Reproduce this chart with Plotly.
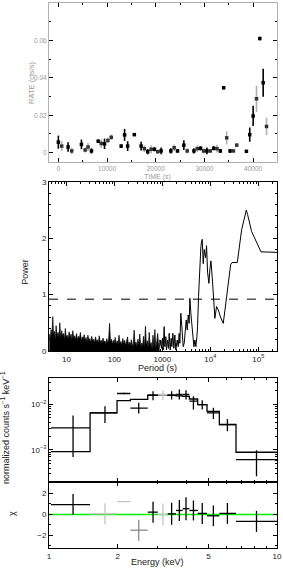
import math
import plotly.graph_objects as go

# ---------------- light curve (top panel) ----------------
lc_time = [0, 690, 2000, 2750, 4740, 5500, 6100, 6800, 8180, 8800,
           9480, 10170, 10860, 12900, 13600, 14230, 15600, 17000, 17660, 18350,
           19040, 19730, 20400, 21100, 23100, 23780, 24470, 25770, 26460, 27840,
           28520, 29200, 29830, 30500, 31200, 31900, 32580, 33260, 33950, 34570,
           35260, 35950, 36630, 38620, 39300, 40000, 40690, 41370, 42060, 42750]
lc_rate = [0.0056, 0.0035, 0.0030, 0.0009, 0.0044, 0.0014, 0.0030, 0.0009, 0.0061, 0.0049,
           0.0047, 0.0065, 0.0082, 0.0035, 0.0095, 0.0035, 0.0096, 0.0035, 0.0021, 0.0005,
           0.0018, 0.0018, 0.0005, 0.0009, 0.0009, 0.0026, 0.0009, 0.0040, 0.0009, 0.0009,
           0.0021, 0.0023, 0.0009, 0.0009, 0.0009, 0.0023, 0.0021, 0.0009, 0.0347, 0.0079,
           0.0009, 0.0009, 0.0040, 0.0007, 0.0096, 0.0196, 0.0288, 0.0610, 0.0374, 0.0140]
lc_err = [0.0035, 0.0026, 0.0025, 0.0018, 0.0026, 0.0014, 0.0021, 0.0014, 0.0009, 0.0023,
          0.0028, 0.0014, 0.0014, 0.0009, 0.0032, 0.0026, 0.0007, 0.0023, 0.0018, 0.0014,
          0.0021, 0.0011, 0.0011, 0.0018, 0.0014, 0.0018, 0.0009, 0.0026, 0.0014, 0.0014,
          0.0018, 0.0011, 0.0014, 0.0018, 0.0011, 0.0011, 0.0021, 0.0011, 0.0009, 0.0035,
          0.0011, 0.0009, 0.0011, 0.0007, 0.0038, 0.0054, 0.0070, 0.0009, 0.0075, 0.0047]
lc_inst = ["A", "B", "A", "B", "A", "B", "B", "A", "A", "B",
           "A", "B", "B", "A", "A", "A", "A", "A", "B", "A",
           "B", "A", "B", "A", "A", "B", "A", "A", "B", "A",
           "B", "A", "B", "A", "B", "A", "B", "A", "A", "B",
           "A", "B", "B", "A", "A", "A", "B", "A", "A", "B"]
time_ticks = [0, 10000, 20000, 30000, 40000]
rate_ticks = [0, 0.02, 0.04, 0.06, 0.08]
rate_ticktext = ["0", "0.02", "0.04", "0.06", "0.08"]

# ---------------- periodogram (middle panel) ----------------
noise_period = [4.4, 4.6, 4.8, 5.0, 5.2, 5.4, 5.6, 5.9, 6.1, 6.4,
                6.7, 7.0, 7.3, 7.6, 8.0, 8.3, 8.7, 9.1, 9.5, 9.9,
                10.4, 10.9, 11.4, 11.9, 12.5, 13.0, 13.6, 14.3, 14.9, 15.6,
                16.3, 17.1, 17.9, 18.7, 19.6, 20.5, 21.4, 22.4, 23.5, 24.5,
                25.7, 26.9, 28.1, 29.4, 30.8, 32.2, 33.7, 35.2, 36.9, 38.6,
                40.4, 42.2, 44.2, 46.2, 48.4, 50.6, 52.9, 55.4, 58.0, 60.6,
                63.4, 66.4, 69.5, 72.7, 76.0, 79.5, 83.2, 87.1, 91.1, 95.3,
                99.7, 104, 109, 114, 120, 125, 131, 137, 143, 150,
                157, 164, 172, 180, 188, 197, 206, 215, 225, 236,
                247, 258, 270, 283, 296, 310, 324, 339, 355, 371,
                388, 406, 425, 445, 465, 487, 509, 533, 558, 584,
                611, 639, 669, 700, 732, 766, 802, 839, 878]
noise_power = [0.30, 0.22, 0.38, 0.25, 0.61, 0.28, 0.35, 0.20, 0.45, 0.26,
               0.33, 0.24, 0.50, 0.22, 0.36, 0.27, 0.31, 0.19, 0.40, 0.25,
               0.28, 0.21, 0.34, 0.23, 0.30, 0.18, 0.36, 0.22, 0.27, 0.20,
               0.31, 0.19, 0.26, 0.22, 0.33, 0.17, 0.25, 0.21, 0.29, 0.18,
               0.24, 0.16, 0.28, 0.19, 0.22, 0.15, 0.26, 0.18, 0.21, 0.14,
               0.25, 0.17, 0.20, 0.13, 0.27, 0.16, 0.19, 0.14, 0.23, 0.15,
               0.18, 0.12, 0.22, 0.14, 0.20, 0.49, 0.15, 0.21, 0.12, 0.19,
               0.14, 0.24, 0.11, 0.18, 0.13, 0.28, 0.12, 0.17, 0.10, 0.22,
               0.13, 0.19, 0.09, 0.15, 0.25, 0.10, 0.16, 0.08, 0.20, 0.12,
               0.09, 0.37, 0.11, 0.16, 0.07, 0.21, 0.10, 0.30, 0.06, 0.14,
               0.08, 0.26, 0.05, 0.44, 0.10, 0.18, 0.04, 0.33, 0.09, 0.15,
               0.03, 0.28, 0.07, 0.38, 0.05, 0.16, 0.31, 0.04, 0.20]
peak_period = [887, 931, 961, 1009, 1042, 1093, 1128, 1184, 1222, 1283,
               1346, 1390, 1459, 1531, 1581, 1656, 1738, 1824, 1914, 2042,
               2143, 2249, 2322, 2432, 2553, 2636, 2723, 2858, 2999, 3148,
               3304, 3467, 3631, 3750, 3936, 4130, 4335, 4550, 4775, 5011,
               5260, 5430, 5690, 6067, 6368, 6577, 6792, 7129, 7482, 7980,
               8363, 8777, 9360, 9823, 10310, 10990, 11530, 12480, 13520, 14650,
               16400, 18630, 20190, 21880, 24490, 26540, 28270, 36560, 45000, 56360,
               60000, 72780, 114000, 258000]
peak_power = [0.077, 0.195, 0.047, 0.225, 0.018, 0.432, 0.077, 0.254, 0.018, 0.195,
              0.047, 0.314, 0.018, 0.225, 0.077, 0.314, 0.047, 0.284, 0.018, 0.195,
              0.077, 0.314, 0.136, 0.669, 0.432, 0.195, 0.077, 0.136, 0.314, 0.551,
              0.373, 0.639, 0.491, 0.935, 0.669, 0.432, 0.254, 0.077, 0.195, 0.077,
              0.254, 0.432, 0.965, 1.557, 1.853, 1.942, 1.983, 1.55, 1.80, 1.65,
              1.87, 1.40, 1.20, 1.45, 1.60, 1.30, 0.94, 0.58, 0.79, 0.73,
              0.60, 0.49, 0.72, 0.96, 1.32, 1.53, 1.57, 1.57, 2.15, 2.50,
              2.42, 2.12, 1.76, 1.75]
sig_level = 0.92
period_ticks = [10, 100, 1000, 1e4, 1e5]
period_ticktext = ["10", "100", "1000", "10<sup>4</sup>", "10<sup>5</sup>"]

# ---------------- spectrum + residuals (bottom panels) ----------------
spec_edges = [1.02, 1.514, 1.988, 2.275, 2.71, 3.0, 3.316, 3.607, 3.859, 4.128,
              4.489, 4.934, 5.587, 6.61, 10.0]
spec_energy = [1.275, 1.76, 2.13, 2.475, 2.86, 3.16, 3.45, 3.73, 3.99, 4.3,
               4.7, 5.26, 6.06, 8.13]
spec_counts = [0.00303, 0.00646, 0.01713, 0.00818, 0.01574, 0.01628, 0.01574, 0.01628, 0.01628, 0.01163,
               0.00983, 0.00646, 0.00359, 0.000614]
spec_lo = [0.000703, 0.00390, 0.0165, 0.00625, 0.01224, 0.01224, 0.01266, 0.01266, 0.01266, 0.00764,
           0.00764, 0.00477, 0.00256, 0.000265]
spec_hi = [0.00565, 0.00904, 0.0178, 0.01070, 0.01926, 0.02026, 0.01926, 0.02096, 0.02026, 0.01497,
           0.01224, 0.00831, 0.00477, 0.000983]
spec_model = [0.00092, 0.00645, 0.0120, 0.0127, 0.0157, 0.0160, 0.0157, 0.0152, 0.0148, 0.0130,
              0.0098, 0.0070, 0.0036, 0.00089]
spec_inst = ["A", "A", "A", "A", "A", "C", "A", "A", "A", "A", "A", "A", "A", "A"]
resid = [0.94, 0.06, 1.23, -1.5, 0.22, 0.0, 0.06, 0.38, 0.55, 0.38, 0.1, -0.13, 0.1, -0.66]
resid_err = [1.0, 1.0, 0.0, 1.0, 1.0, 1.05, 1.05, 1.0, 1.1, 0.95, 1.0, 0.98, 1.0, 1.0]
resid_inst = ["A", "C", "C", "B", "A", "C", "A", "A", "A", "A", "A", "A", "A", "A"]
energy_ticks = [1, 2, 5, 10]

# ---------------- styling ----------------
FONT = "Liberation Sans"
inst_color = {"A": "black", "B": "#8a8a8a", "C": "#c4c4c4"}
lc_err_color = {"A": "black", "B": "#b0b0b0"}

fig = go.Figure()

# light curve
for g in ["B", "A"]:
    idx = [i for i, v in enumerate(lc_inst) if v == g]
    fig.add_trace(go.Scatter(
        x=[lc_time[i] for i in idx], y=[lc_rate[i] for i in idx],
        mode="markers", xaxis="x", yaxis="y",
        marker=dict(symbol="square", size=3.5, color="black" if g == "A" else "#333333"),
        error_y=dict(type="data", array=[lc_err[i] for i in idx], width=0,
                     thickness=1.6, color=lc_err_color[g]),
        showlegend=False, hoverinfo="skip"))

# periodogram
fig.add_trace(go.Scatter(x=noise_period, y=noise_power, mode="lines", fill="tozeroy",
                         fillcolor="black", line=dict(color="black", width=0.7),
                         xaxis="x2", yaxis="y2", showlegend=False, hoverinfo="skip"))
fig.add_trace(go.Scatter(x=peak_period, y=peak_power, mode="lines",
                         line=dict(color="black", width=1),
                         xaxis="x2", yaxis="y2", showlegend=False, hoverinfo="skip"))

# spectrum model (step)
fig.add_trace(go.Scatter(x=spec_edges, y=spec_model + [spec_model[-1]], mode="lines",
                         line=dict(color="black", width=1.3, shape="hv"),
                         xaxis="x3", yaxis="y3", showlegend=False, hoverinfo="skip"))


def add_crosses(inst_list, yvals, ylo, yhi, xa, ya):
    for g in ["C", "B", "A"]:
        idx = [i for i, v in enumerate(inst_list) if v == g]
        if not idx:
            continue
        fig.add_trace(go.Scatter(
            x=[spec_energy[i] for i in idx], y=[yvals[i] for i in idx],
            mode="markers", marker=dict(size=1, color=inst_color[g], opacity=0),
            error_x=dict(type="data", symmetric=False,
                         array=[spec_edges[i + 1] - spec_energy[i] for i in idx],
                         arrayminus=[spec_energy[i] - spec_edges[i] for i in idx],
                         width=0, thickness=1.3, color=inst_color[g]),
            error_y=dict(type="data", symmetric=False,
                         array=[yhi[i] - yvals[i] for i in idx],
                         arrayminus=[yvals[i] - ylo[i] for i in idx],
                         width=0, thickness=1.3, color=inst_color[g]),
            xaxis=xa, yaxis=ya, showlegend=False, hoverinfo="skip"))


add_crosses(spec_inst, spec_counts, spec_lo, spec_hi, "x3", "y3")

# residual zero line
fig.add_shape(type="line", xref="x4 domain", x0=0, x1=1, yref="y4", y0=0, y1=0,
              line=dict(color="#00ee00", width=1.6), layer="below")
add_crosses(resid_inst, resid, [r - e for r, e in zip(resid, resid_err)],
            [r + e for r, e in zip(resid, resid_err)], "x4", "y4")

# significance line
fig.add_shape(type="line", xref="x2 domain", x0=0, x1=1, yref="y2",
              y0=sig_level, y1=sig_level, line=dict(color="black", width=1, dash="dash"))


def ax(**kw):
    d = dict(showline=True, mirror="allticks", ticks="inside", ticklen=4, tickwidth=1,
             linecolor="black", linewidth=1, tickcolor="black", showgrid=False,
             zeroline=False, automargin=False,
             tickfont=dict(family=FONT, size=8, color="#222222"))
    d.update(kw)
    return d


log_minor = [m * 10 ** d for d in range(-4, 6) for m in range(2, 10)]
top_font = dict(family=FONT, size=6.5, color="#9a9a9a")

fig.update_layout(
    width=283, height=568,
    margin=dict(l=49, r=6, t=3, b=20),
    paper_bgcolor="white", plot_bgcolor="white",
    xaxis=ax(domain=[0, 1], anchor="y", range=[-1920, 44900],
             tickvals=time_ticks, ticktext=[str(t) for t in time_ticks],
             linecolor="#b0b0b0", tickfont=top_font,
             minor=dict(tickvals=[5000, 15000, 25000, 35000], ticks="inside", ticklen=2,
                        tickcolor="black")),
    yaxis=ax(domain=[0.7083, 1], anchor="x", range=[-0.005, 0.08],
             tickvals=rate_ticks, ticktext=rate_ticktext,
             linecolor="#b0b0b0", tickfont=top_font,
             minor=dict(tickvals=[0.01, 0.03, 0.05, 0.07], ticks="inside", ticklen=2,
                        tickcolor="black")),
    xaxis2=ax(domain=[0, 1], anchor="y2", type="log",
              range=[math.log10(4.34), math.log10(2.46e5)],
              tickvals=period_ticks, ticktext=period_ticktext,
              minor=dict(tickvals=log_minor, ticks="inside", ticklen=2, tickcolor="black")),
    yaxis2=ax(domain=[0.3615, 0.6716], anchor="x2", range=[0, 3],
              tickvals=[0, 1, 2, 3], ticktext=["0", "1", "2", "3"],
              minor=dict(dtick=0.2, ticks="inside", ticklen=2, tickcolor="black")),
    xaxis3=ax(domain=[0, 1], anchor="y3", type="log", range=[0, 1],
              tickvals=energy_ticks, showticklabels=False,
              minor=dict(tickvals=log_minor, ticks="inside", ticklen=2, tickcolor="black")),
    yaxis3=ax(domain=[0.1206, 0.3125], anchor="x3", type="log",
              range=[math.log10(1.96e-4), math.log10(0.038)],
              tickvals=[1e-3, 1e-2], ticktext=["10<sup>−3</sup>", "10<sup>−2</sup>"],
              minor=dict(tickvals=log_minor, ticks="inside", ticklen=2, tickcolor="black")),
    xaxis4=ax(domain=[0, 1], anchor="y4", type="log", range=[0, 1],
              tickvals=energy_ticks, ticktext=[str(e) for e in energy_ticks],
              minor=dict(tickvals=log_minor, ticks="inside", ticklen=2, tickcolor="black")),
    yaxis4=ax(domain=[0, 0.1206], anchor="x4", range=[-3.2, 3.07],
              tickvals=[-2, 0, 2], ticktext=["−2", "0", "2"],
              minor=dict(tickvals=[-3, -1, 1, 3], ticks="inside", ticklen=2, tickcolor="black")),
)

title_font = dict(family=FONT, size=9, color="#222222")
annots = [
    ("RATE (cts/s)", -0.080, 0.853, 90, dict(family=FONT, size=7.5, color="#9a9a9a")),
    ("TIME (s)", 0.474, 0.6815, 0, dict(family=FONT, size=7, color="#9a9a9a")),
    ("Power", -0.105, 0.507, 90, title_font),
    ("Period (s)", 0.474, 0.330, 0, title_font),
    ("normalized counts s<sup>−1</sup> keV<sup>−1</sup>", -0.193, 0.222, 90, title_font),
    ("χ", -0.162, 0.0624, 90, title_font),
    ("Energy (keV)", 0.474, -0.025, 0, title_font),
]
for text, x, y, ang, f in annots:
    fig.add_annotation(text=text, xref="paper", yref="paper", x=x, y=y,
                       xanchor="center", yanchor="middle", textangle=-ang if ang else 0,
                       showarrow=False, font=f)

fig.write_html("out.html", config={"displayModeBar": False},
               post_script="document.body.style.margin='0';")
